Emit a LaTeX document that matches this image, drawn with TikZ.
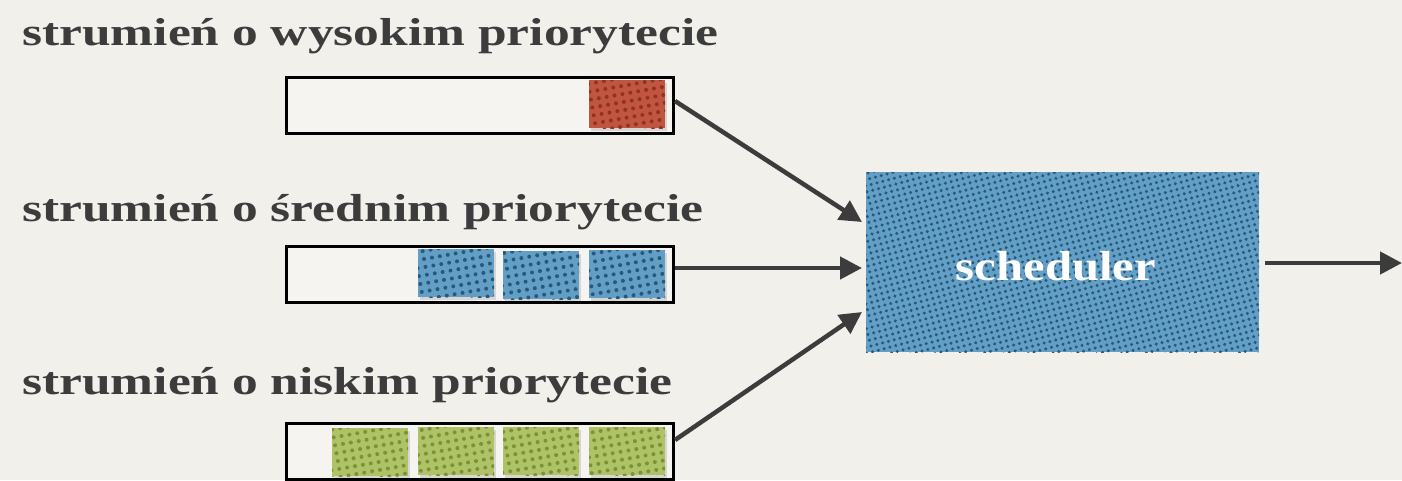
\documentclass[tikz,border=0pt]{standalone}
\usepackage{fontspec}
\setmainfont{Liberation Serif}
\newfontfamily\widefont[FakeStretch=1.32]{Liberation Serif}
\newfontfamily\boxfont[FakeStretch=1.16]{Liberation Serif}
\usetikzlibrary{arrows.meta,patterns.meta}
\definecolor{paper}{HTML}{F2F0EB}
\definecolor{ink}{HTML}{3C3C3C}
\definecolor{redq}{HTML}{C2553F}
\definecolor{redd}{HTML}{8E3426}
\definecolor{blueq}{HTML}{629FC6}
\definecolor{blued}{HTML}{2B5878}
\definecolor{greenq}{HTML}{AEC266}
\definecolor{greend}{HTML}{7E9038}
\tikzset{
  x=1pt, y=-1pt,
  label/.style={anchor=base west, inner sep=0, text=ink,
    font=\widefont\fontsize{39}{42}\selectfont\bfseries},
  queue/.style={draw=black, line width=3pt, fill=paper!70!white,
    minimum width=387pt, minimum height=56pt, inner sep=0, anchor=north west},
  pkt/.style={minimum width=76pt, minimum height=48pt, inner sep=0, anchor=north west,
    fill=#1q, postaction={pattern={Dots[distance=8pt, radius=2pt, angle=10]},
      pattern color=#1d},
    preaction={fill=black, fill opacity=0.12, transform canvas={shift={(2pt,-3pt)}}}},
  flow/.style={draw=ink, line width=4.5pt, -{Triangle[length=22pt, width=22pt]}},
}
\begin{document}
\begin{tikzpicture}
\useasboundingbox (0,0) rectangle (1402,480);
\fill[paper] (0,0) rectangle (1402,480);

% stream labels
\node[label] (l1) at (22,45) {strumień o wysokim priorytecie};
\node[label] (l2) at (22,221) {strumień o średnim priorytecie};
\node[label] (l3) at (22,394) {strumień o niskim priorytecie};

% queues
\node[queue] (q1) at (284.5,75.5) {};
\node[queue] (q2) at (284.5,244.5) {};
\node[queue] (q3) at (284.5,421.5) {};

% high priority packet
\node[pkt=red] (r1) at (589,80) {};
% medium priority packets
\node[pkt=blue] (b1) at (418,249) {};
\node[pkt=blue] (b2) at (503,251) {};
\node[pkt=blue] (b3) at (589,250) {};
% low priority packets
\node[pkt=green] (g1) at (332,428) {};
\node[pkt=green] (g2) at (418,427) {};
\node[pkt=green] (g3) at (503,427) {};
\node[pkt=green] (g4) at (589,427) {};

% scheduler
\node[anchor=north west, minimum width=393pt, minimum height=180pt, inner sep=0,
  fill=blueq, postaction={pattern={Dots[distance=6pt, radius=1.7pt, angle=15]},
  pattern color=blued}] (s) at (866,172) {};
\node[text=white, font=\boxfont\fontsize{42}{44}\selectfont\bfseries] (st) at (1056,266) {scheduler};

% connector end points
\coordinate (i1) at (862,222);
\coordinate (i2) at (862,268);
\coordinate (i3) at (862,312);
\coordinate (o1) at (675,101);
\coordinate (o2) at (675,268);
\coordinate (o3) at (675,440);
\coordinate (so) at (1265,263);
\coordinate (out) at (1402,263);

% connectors
\draw[flow] (o1) -- (i1);
\draw[flow] (o2) -- (i2);
\draw[flow] (o3) -- (i3);
\draw[flow] (so) -- (out);
\end{tikzpicture}
\end{document}
